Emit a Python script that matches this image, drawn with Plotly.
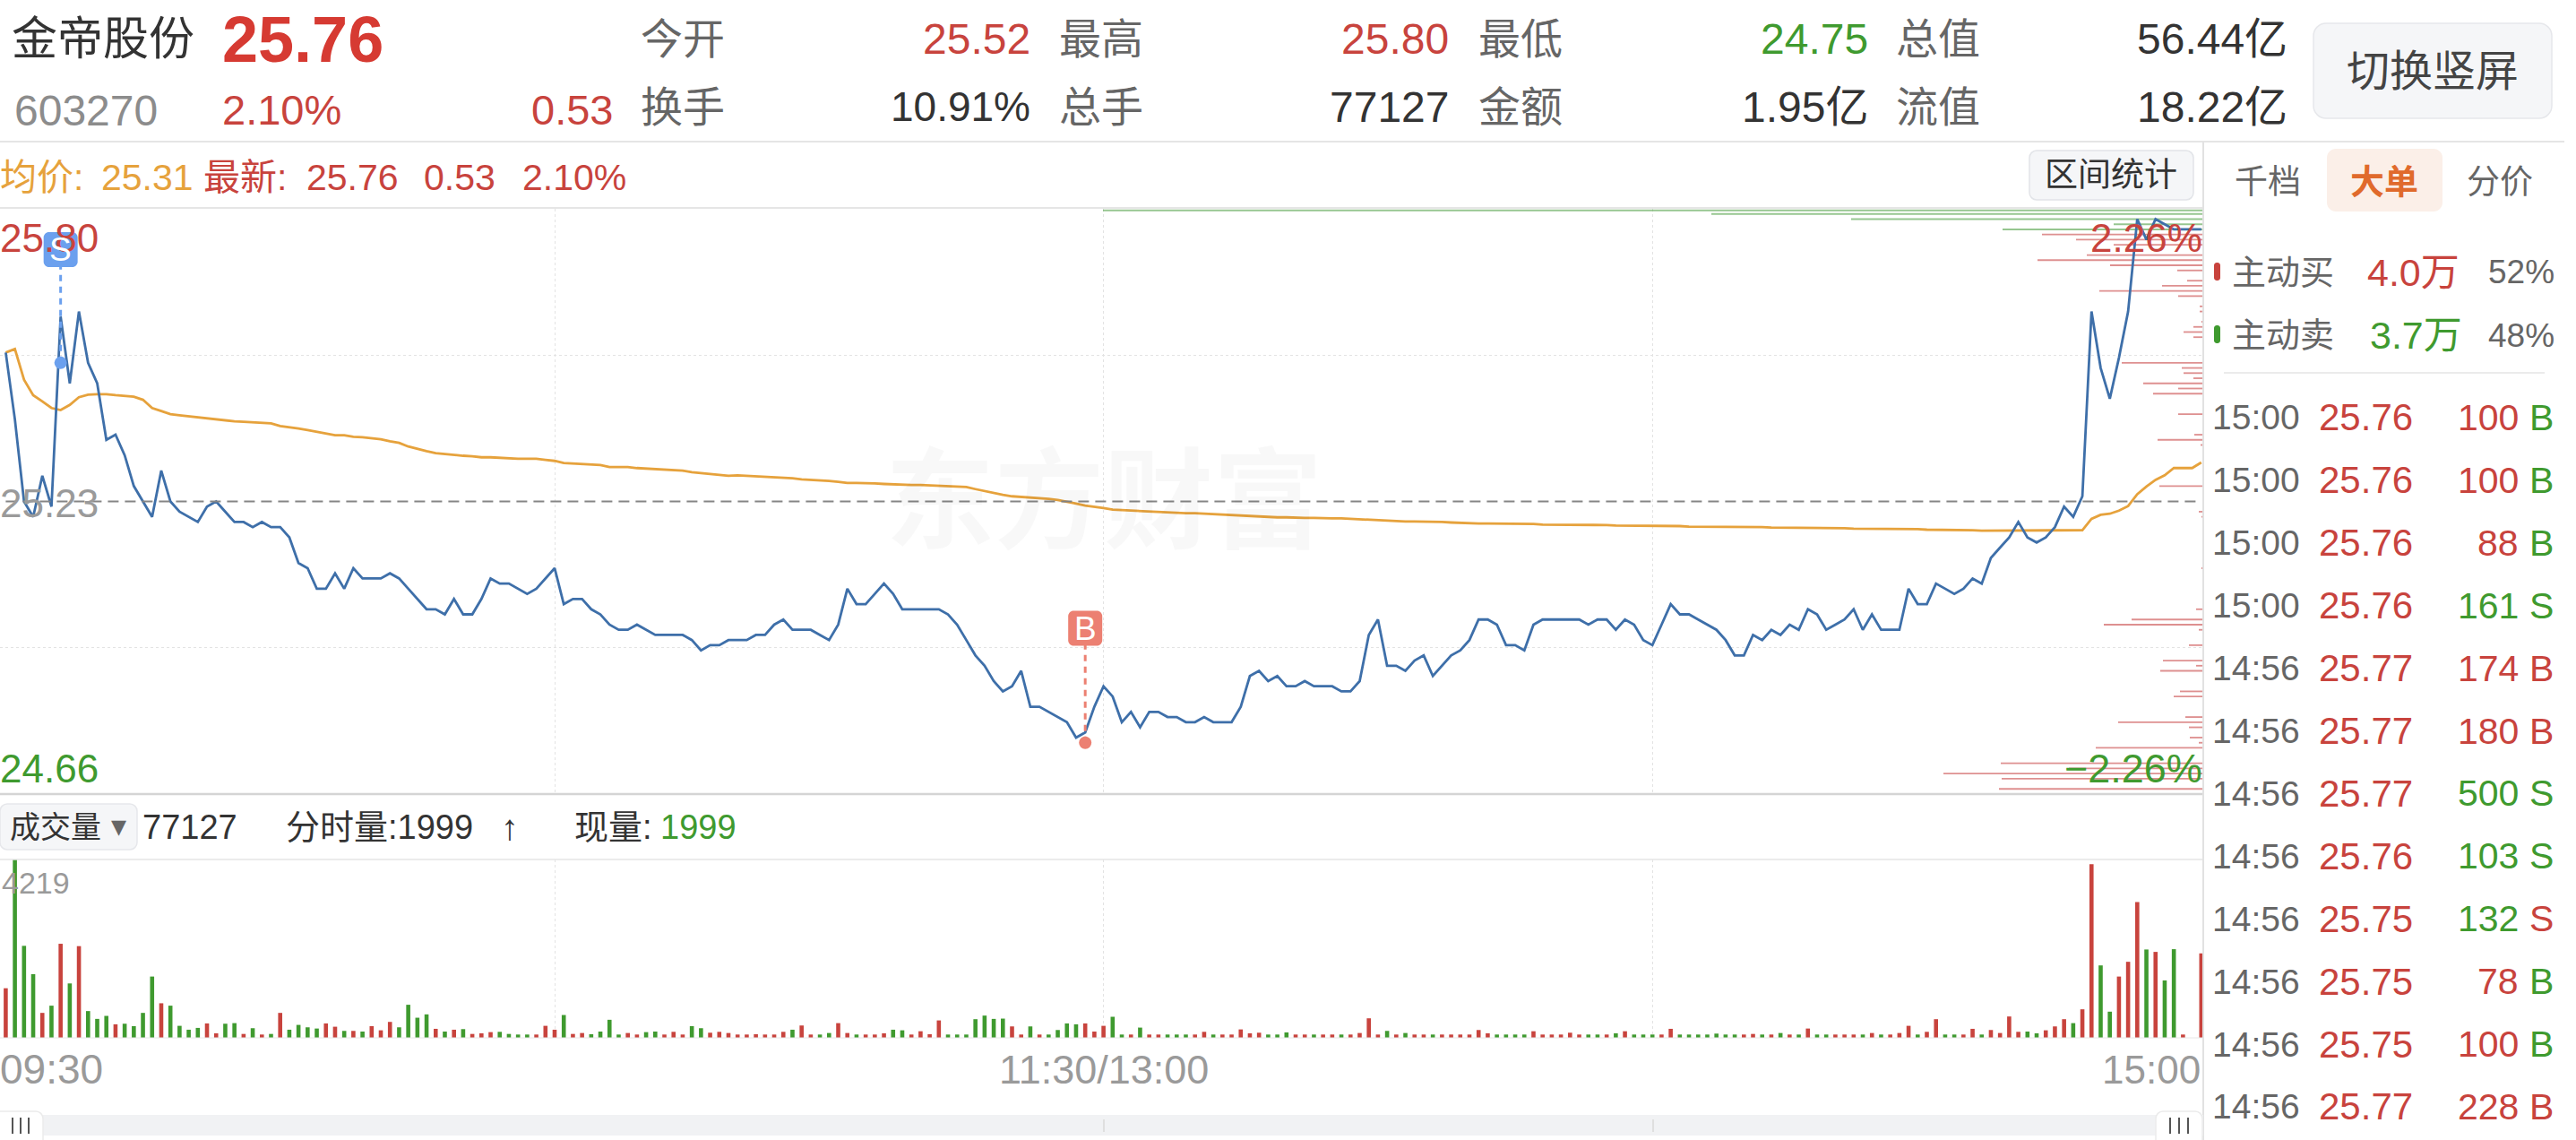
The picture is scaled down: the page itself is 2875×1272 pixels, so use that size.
import plotly.graph_objects as go

W, H = 2875, 1272
RED = "#C8433D"
GREEN = "#3F9A2F"
ORANGE = "#E6A23C"
BLUE = "#3E6FA9"
GREY = "#9A9A9A"
DARK = "#333333"
MID = "#666666"
FONT = "Liberation Sans, Noto Sans CJK SC, sans-serif"

price = [
    25.52,25.39,25.23,25.20,25.28,25.22,25.59,25.46,25.60,25.50,
    25.46,25.35,25.36,25.32,25.26,25.23,25.20,25.29,25.23,25.21,
    25.20,25.19,25.22,25.23,25.21,25.19,25.19,25.18,25.19,25.18,
    25.18,25.16,25.11,25.10,25.06,25.06,25.09,25.06,25.10,25.08,
    25.08,25.08,25.09,25.08,25.06,25.04,25.02,25.02,25.01,25.04,
    25.01,25.01,25.04,25.08,25.07,25.07,25.06,25.05,25.06,25.08,
    25.10,25.03,25.04,25.04,25.02,25.01,24.99,24.98,24.98,24.99,
    24.98,24.97,24.97,24.97,24.97,24.96,24.94,24.95,24.95,24.96,
    24.96,24.96,24.97,24.97,24.99,25.00,24.98,24.98,24.98,24.97,
    24.96,24.99,25.06,25.03,25.03,25.05,25.07,25.05,25.02,25.02,
    25.02,25.02,25.02,25.01,24.99,24.96,24.93,24.91,24.88,24.86,
    24.87,24.90,24.83,24.83,24.82,24.81,24.80,24.77,24.78,24.83,
    24.87,24.85,24.80,24.82,24.79,24.82,24.82,24.81,24.81,24.80,
    24.80,24.81,24.80,24.80,24.80,24.83,24.89,24.90,24.88,24.89,
    24.87,24.87,24.88,24.87,24.87,24.87,24.86,24.86,24.88,24.97,
    25.00,24.91,24.91,24.90,24.92,24.93,24.89,24.91,24.93,24.94,
    24.96,25.00,25.00,24.99,24.95,24.95,24.94,24.99,25.00,25.00,
    25.00,25.00,25.00,24.99,25.00,25.00,24.98,25.00,24.99,24.96,
    24.95,24.99,25.03,25.01,25.01,25.00,24.99,24.98,24.96,24.93,
    24.93,24.97,24.96,24.98,24.97,24.99,24.98,25.02,25.01,24.98,
    24.99,25.00,25.02,24.98,25.01,24.98,24.98,24.98,25.06,25.03,
    25.03,25.07,25.06,25.05,25.06,25.08,25.07,25.12,25.14,25.16,
    25.19,25.16,25.15,25.16,25.18,25.22,25.20,25.24,25.60,25.49,
    25.43,25.51,25.60,25.78,25.74,25.78,25.77,25.76,25.76,25.76,25.76,
]

average = [
    25.520,25.527,25.467,25.437,25.425,25.412,25.408,25.418,25.433,25.438,
    25.439,25.439,25.437,25.436,25.434,25.428,25.412,25.406,25.400,25.398,
    25.396,25.394,25.391,25.390,25.387,25.386,25.385,25.384,25.383,25.382,
    25.377,25.375,25.372,25.369,25.366,25.362,25.359,25.359,25.356,25.355,
    25.353,25.351,25.347,25.344,25.337,25.332,25.328,25.324,25.322,25.321,
    25.319,25.318,25.316,25.316,25.315,25.313,25.313,25.313,25.313,25.311,
    25.309,25.305,25.304,25.304,25.303,25.301,25.297,25.297,25.297,25.295,
    25.294,25.293,25.291,25.291,25.290,25.287,25.285,25.283,25.281,25.280,
    25.281,25.280,25.279,25.278,25.278,25.277,25.275,25.273,25.272,25.272,
    25.270,25.268,25.266,25.266,25.266,25.265,25.264,25.263,25.263,25.262,
    25.262,25.261,25.260,25.259,25.258,25.258,25.254,25.250,25.247,25.243,
    25.240,25.239,25.237,25.236,25.235,25.233,25.230,25.226,25.222,25.220,
    25.217,25.214,25.213,25.213,25.211,25.210,25.209,25.208,25.208,25.207,
    25.207,25.206,25.205,25.204,25.204,25.203,25.202,25.200,25.200,25.199,
    25.199,25.198,25.198,25.198,25.197,25.197,25.197,25.196,25.195,25.194,
    25.193,25.193,25.192,25.191,25.191,25.191,25.190,25.190,25.189,25.188,
    25.188,25.187,25.187,25.187,25.186,25.186,25.186,25.186,25.185,25.185,
    25.185,25.184,25.184,25.184,25.184,25.184,25.183,25.183,25.183,25.183,
    25.182,25.182,25.182,25.182,25.181,25.181,25.181,25.181,25.180,25.180,
    25.180,25.180,25.180,25.179,25.179,25.179,25.179,25.178,25.178,25.178,
    25.178,25.178,25.177,25.177,25.177,25.177,25.177,25.176,25.176,25.176,
    25.175,25.175,25.175,25.174,25.174,25.174,25.173,25.173,25.173,25.173,
    25.173,25.173,25.173,25.173,25.173,25.174,25.174,25.174,25.196,25.204,
    25.206,25.212,25.221,25.244,25.259,25.272,25.281,25.295,25.295,25.295,25.306,
]

volume = [
    1173,4219,2176,1507,590,761,2225,1287,2169,633,
    448,519,320,334,277,590,1450,818,761,284,
    192,235,341,107,334,348,92,228,78,92,
    590,192,306,249,220,341,263,164,164,149,
    277,178,377,249,782,476,555,213,149,192,
    206,92,107,135,142,92,78,78,78,284,
    192,540,92,114,85,149,427,78,114,78,
    135,149,78,142,78,277,228,121,142,114,
    78,78,85,78,78,142,192,292,78,78,
    114,348,114,78,78,78,107,192,178,78,
    156,85,412,78,78,78,441,526,448,455,
    270,78,270,78,78,185,341,320,341,149,
    284,498,78,78,242,78,78,78,78,78,
    78,142,78,78,78,199,107,121,78,78,
    128,78,78,78,78,78,78,78,114,462,
    78,164,78,114,78,78,78,78,78,78,
    78,185,107,78,78,78,78,156,78,78,
    78,121,78,78,78,78,107,156,78,78,
    78,78,213,78,78,78,78,100,78,78,
    78,92,78,78,114,78,78,220,78,78,
    78,78,78,78,114,78,78,114,284,78,
    142,441,78,78,78,213,78,185,114,505,
    142,149,107,178,270,441,348,675,4110,1713,
    619,1450,1799,3214,2090,2033,1358,2097,78,0,1998,
]

volume_side = (
    "rgggrgrgrg" "ggrggggrgg" "ggrrggrgrg" "rggggrrgrg" "rrrggggrgr"
    "grrrggggrr" "rgrrggggrr" "ggrrrggrrr" "rrrrrrgrrg" "grrgrrrggr"
    "rrrggggggg" "rrgrggggrr" "rggrgrrggg" "rrgrrrrrgg" "grrgrrgrrr"
    "rgrgrrgrrr" "rrrggggrrr" "rrrggrgrgg" "grrggggggg" "rrgrgrgrgg"
    "rrrgrgrrrg" "rrggrrgrrr" "rggrrrgrrg" "grrrgrggrrr"
)

profile_green_price = [25.797, 25.79, 25.78, 25.77, 25.76]
profile_green_volume = [1228, 549, 393, 100, 224]

profile_red_price = [
    25.75,25.74,25.73,25.71,25.70,25.69,25.68,25.66,25.65,25.64,25.63,25.61,25.60,25.58,
    25.57,25.56,25.55,25.53,25.50,25.49,25.48,25.47,25.46,25.45,25.44,25.40,25.36,25.35,
    25.34,25.26,25.21,25.20,25.10,25.06,25.02,25.00,24.99,24.98,24.95,24.93,24.92,24.91,
    24.90,24.89,24.87,24.86,24.85,24.81,24.80,24.79,24.77,24.76,24.75,24.72,24.71,24.70,
    24.69,24.67,24.66,
]
profile_red_volume = [
    180,142,100,130,185,104,29,18,46,116,28,4,4,2,
    11,22,11,1,91,24,22,11,67,28,56,28,10,51,
    3,49,5,2,2,1,8,80,111,5,16,1,45,8,
    48,1,1,26,33,20,95,16,15,5,120,226,150,290,
    225,228,56,
]

trade_index = [6, 118]
trade_price = [25.50, 24.76]
trade_box_price = [25.687, 24.95]
trade_tag = ["S", "B"]
trade_colour = ["#6BA0EE", "#EC8072"]

time_ticks = [60, 120, 180]
price_grid = [25.515, 24.945]
prev_close = 25.23

tape_time = ["15:00"]*4 + ["14:56"]*8
tape_price = ["25.76"]*4 + ["25.77"]*3 + ["25.76","25.75","25.75","25.75","25.77"]
tape_size = ["100","100","88","161","174","180","500","103","132","78","100","228"]
tape_size_side = "rrrgrrgggrrr"
tape_tag = "BBBSBBSSSBBB"
tape_tag_side = "gggg" + "rr" + "gg" + "rggr"

index = list(range(len(price)))
side_colour = {"r": RED, "g": GREEN}

# pixel geometry of the panels
PANEL_R = 2459
P_TOP, P_BOT = 233, 886
V_TOP, V_BOT = 959, 1158


def fx(x):
    return x / W


def fy(y):
    return 1 - y / H


fig = go.Figure()

# order-book profile at the right edge of the price panel
fig.add_trace(go.Bar(x=profile_red_volume, y=profile_red_price, orientation="h", width=0.0032,
                     marker=dict(color="rgba(200,70,70,0.6)", line_width=0), xaxis="x", yaxis="y"))
fig.add_trace(go.Bar(x=profile_green_volume, y=profile_green_price, orientation="h", width=0.0036,
                     marker=dict(color="rgba(80,160,70,0.6)", line_width=0), xaxis="x", yaxis="y"))

fig.add_trace(go.Scatter(x=index, y=average, mode="lines", line=dict(color=ORANGE, width=2.8),
                         xaxis="x3", yaxis="y"))
fig.add_trace(go.Scatter(x=index, y=price, mode="lines", line=dict(color=BLUE, width=2.8),
                         xaxis="x3", yaxis="y"))
for i in range(2):
    fig.add_trace(go.Scatter(x=[trade_index[i]]*2, y=[trade_price[i], trade_box_price[i]], mode="lines",
                             line=dict(color=trade_colour[i], width=3, dash="7px,6px"),
                             xaxis="x3", yaxis="y"))
    fig.add_trace(go.Scatter(x=[trade_index[i]], y=[trade_price[i]], mode="markers",
                             marker=dict(color=trade_colour[i], size=14), xaxis="x3", yaxis="y"))
fig.add_trace(go.Scatter(x=[index[0], index[-1]], y=[prev_close, prev_close], mode="lines",
                         line=dict(color="#858585", width=2, dash="12px,7px"), xaxis="x3", yaxis="y"))

fig.add_trace(go.Bar(x=index, y=volume, width=0.45,
                     marker=dict(color=[side_colour[s] for s in volume_side], line_width=0),
                     xaxis="x2", yaxis="y2"))

X_RANGE = [-6.4 / 10.21, (PANEL_R - 6.4) / 10.21]
grid = dict(showgrid=True, griddash="dot", gridcolor="#E3E3E3", gridwidth=1, zeroline=False,
            showticklabels=False, ticks="", showline=False)
fig.update_layout(
    width=W, height=H, margin=dict(l=0, r=0, t=0, b=0), autosize=False,
    paper_bgcolor="white", plot_bgcolor="white", showlegend=False, barmode="overlay",
    hovermode=False, font=dict(family=FONT),
    xaxis=dict(domain=[0, fx(PANEL_R)], range=[PANEL_R, 0], anchor="y", showgrid=False, zeroline=False,
               showticklabels=False, ticks="", showline=False),
    xaxis3=dict(domain=[0, fx(PANEL_R)], range=X_RANGE, overlaying="x", anchor="y", tickmode="array",
                tickvals=time_ticks, **grid),
    yaxis=dict(domain=[fy(P_BOT), fy(P_TOP)], range=[24.66, 25.80], anchor="x", tickmode="array",
               tickvals=price_grid, **grid),
    xaxis2=dict(domain=[0, fx(PANEL_R)], range=X_RANGE, anchor="y2", tickmode="array",
                tickvals=time_ticks, **grid),
    yaxis2=dict(domain=[fy(V_BOT), fy(V_TOP)], range=[0, 4219], anchor="x2", showgrid=False, zeroline=False,
                showticklabels=False, ticks="", showline=False),
)

shapes = []
annotations = []


def hline(y, x0=0, x1=PANEL_R, color="#DDDDDD", width=1.5):
    shapes.append(dict(type="line", xref="paper", yref="paper", x0=fx(x0), x1=fx(x1), y0=fy(y), y1=fy(y),
                       line=dict(color=color, width=width)))


def vline(x, y0, y1, color="#DDDDDD", width=1.5):
    shapes.append(dict(type="line", xref="paper", yref="paper", x0=fx(x), x1=fx(x), y0=fy(y0), y1=fy(y1),
                       line=dict(color=color, width=width)))


def rbox(x0, y0, x1, y1, r, fill, line=None):
    k = r * 0.45
    p = (f"M {fx(x0+r)} {fy(y0)} L {fx(x1-r)} {fy(y0)} "
         f"C {fx(x1-k)} {fy(y0)} {fx(x1)} {fy(y0+k)} {fx(x1)} {fy(y0+r)} "
         f"L {fx(x1)} {fy(y1-r)} C {fx(x1)} {fy(y1-k)} {fx(x1-k)} {fy(y1)} {fx(x1-r)} {fy(y1)} "
         f"L {fx(x0+r)} {fy(y1)} C {fx(x0+k)} {fy(y1)} {fx(x0)} {fy(y1-k)} {fx(x0)} {fy(y1-r)} "
         f"L {fx(x0)} {fy(y0+r)} C {fx(x0)} {fy(y0+k)} {fx(x0+k)} {fy(y0)} {fx(x0+r)} {fy(y0)} Z")
    shapes.append(dict(type="path", xref="paper", yref="paper", path=p, fillcolor=fill,
                       line=dict(color=line or fill, width=1.5 if line else 0)))


def text(x, y, s, size, color=DARK, anchor="left", weight=None):
    f = dict(family=FONT, size=size, color=color)
    if weight:
        f["weight"] = weight
    annotations.append(dict(x=fx(x), y=fy(y), xref="paper", yref="paper", text=s, showarrow=False,
                            xanchor=anchor, yanchor="middle", font=f, borderpad=0, borderwidth=0))


# frame lines
hline(158, x1=2862)
hline(232)
hline(886, color="#D4D4D4", width=2.5)
hline(959, color="#E4E4E4")
hline(V_BOT, color="#E8E8E8", width=1)
vline(PANEL_R, 158, H, color="#E2E2E2", width=2)

# watermark
text(1232, 560, "东方财富", 122, "rgba(0,0,0,0.028)", "center", 700)

# header
text(13, 44, "金帝股份", 51, DARK)
text(248, 44, "25.76", 72, "#D63A32", "left", 700)
text(16, 124, "603270", 48, "#8C8C8C")
text(248, 122, "2.10%", 47, RED)
text(684, 122, "0.53", 47, RED, "right")
row1 = [(715, "今开", 1150, "25.52", RED), (1182, "最高", 1617, "25.80", RED),
        (1650, "最低", 2085, "24.75", GREEN), (2116, "总值", 2553, "56.44亿", DARK)]
row2 = [(715, "换手", 1150, "10.91%", DARK), (1182, "总手", 1617, "77127", DARK),
        (1650, "金额", 2085, "1.95亿", DARK), (2116, "流值", 2553, "18.22亿", DARK)]
for y, row in ((44, row1), (119, row2)):
    for lx, label, rx, value, colour in row:
        text(lx, y, label, 47, MID)
        text(rx, y, value, 48 if "%" not in value else 46, colour, "right")
rbox(2582, 26, 2848, 132, 14, "#F5F6F8", "#E6E7EB")
text(2715, 79, "切换竖屏", 48, "#444444", "center")

# status line
text(0, 198, "均价:", 41, ORANGE)
text(113, 198, "25.31", 41, ORANGE)
text(227, 198, "最新:", 41, RED)
text(342, 198, "25.76", 41, RED)
text(473, 198, "0.53", 41, RED)
text(583, 198, "2.10%", 41, RED)
rbox(2265, 168, 2448, 223, 8, "#F5F6F8", "#E2E4E8")
text(2356, 196, "区间统计", 37, DARK, "center")

# price labels
text(0, 265, "25.80", 44, RED)
text(0, 561, "25.23", 44, GREY)
text(0, 857, "24.66", 44, GREEN)
text(2458, 265, "2.26%", 44, RED, "right")
text(2458, 857, "−2.26%", 45, GREEN, "right")

# trade tags
tag_y = [278.5, 701]
for i in range(2):
    cx = 6.4 + 10.21 * trade_index[i]
    rbox(cx - 19, tag_y[i] - 19.5, cx + 19, tag_y[i] + 19.5, 6, trade_colour[i])
    text(cx, tag_y[i], trade_tag[i], 37, "white", "center")

# volume header
rbox(0, 897, 153, 948, 8, "#F5F6F8", "#E6E7EB")
text(11, 923, "成交量", 34, DARK)
text(132, 921, "▾", 34, "#666666", "center")
text(159, 923, "77127", 38, DARK)
text(319, 923, "分时量:1999", 38, DARK)
text(569, 923, "↑", 40, DARK, "center")
text(641, 923, "现量:", 38, DARK)
text(737, 923, "1999", 38, GREEN)
text(2, 985, "4219", 34, GREY)

# time labels
text(0, 1193, "09:30", 46, GREY)
text(1232, 1193, "11:30/13:00", 45, GREY, "center")
text(2456, 1193, "15:00", 44, GREY, "right")

# slider
shapes.append(dict(type="rect", xref="paper", yref="paper", x0=0, x1=fx(PANEL_R), y0=fy(1267), y1=fy(1244),
                   fillcolor="#F1F2F4", line_width=0))
vline(1232, 1249, 1263, "#D8D8D8", 1.5)
vline(1845, 1249, 1263, "#D8D8D8", 1.5)
rbox(-8, 1240, 48, 1280, 8, "white", "#EBEBEB")
rbox(2406, 1240, 2458, 1280, 8, "white", "#EBEBEB")
for hx in (14, 23, 32, 2422, 2432, 2442):
    vline(hx, 1247, 1265, "#555555", 2)

# right panel tabs
rbox(2597, 166, 2726, 236, 10, "#FBEFE8")
text(2531, 203, "千档", 37, MID, "center")
text(2661, 203, "大单", 38, "#E06A2C", "center", 700)
text(2790, 203, "分价", 37, MID, "center")

# buy/sell summary
rbox(2471, 293, 2478, 313, 3, RED)
rbox(2471, 363, 2478, 383, 3, GREEN)
text(2491, 304, "主动买", 38, MID)
text(2491, 374, "主动卖", 38, MID)
text(2642, 304, "4.0万", 43, RED)
text(2645, 374, "3.7万", 43, GREEN)
text(2851, 304, "52%", 37, MID, "right")
text(2851, 374, "48%", 37, MID, "right")
hline(416, 2482, 2840, "#E4E4E4", 1.5)

# trade tape
for k in range(len(tape_time)):
    y = 466 + 69.9 * k
    text(2469, y, tape_time[k], 39, MID)
    text(2588, y, tape_price[k], 42, RED)
    text(2811, y, tape_size[k], 41, side_colour[tape_size_side[k]], "right")
    text(2823, y, tape_tag[k], 41, side_colour[tape_tag_side[k]])

fig.update_layout(shapes=shapes, annotations=annotations)
fig.write_html("out.html", config=dict(displayModeBar=False),
               post_script="document.body.style.margin='0';document.body.style.overflow='hidden';")
